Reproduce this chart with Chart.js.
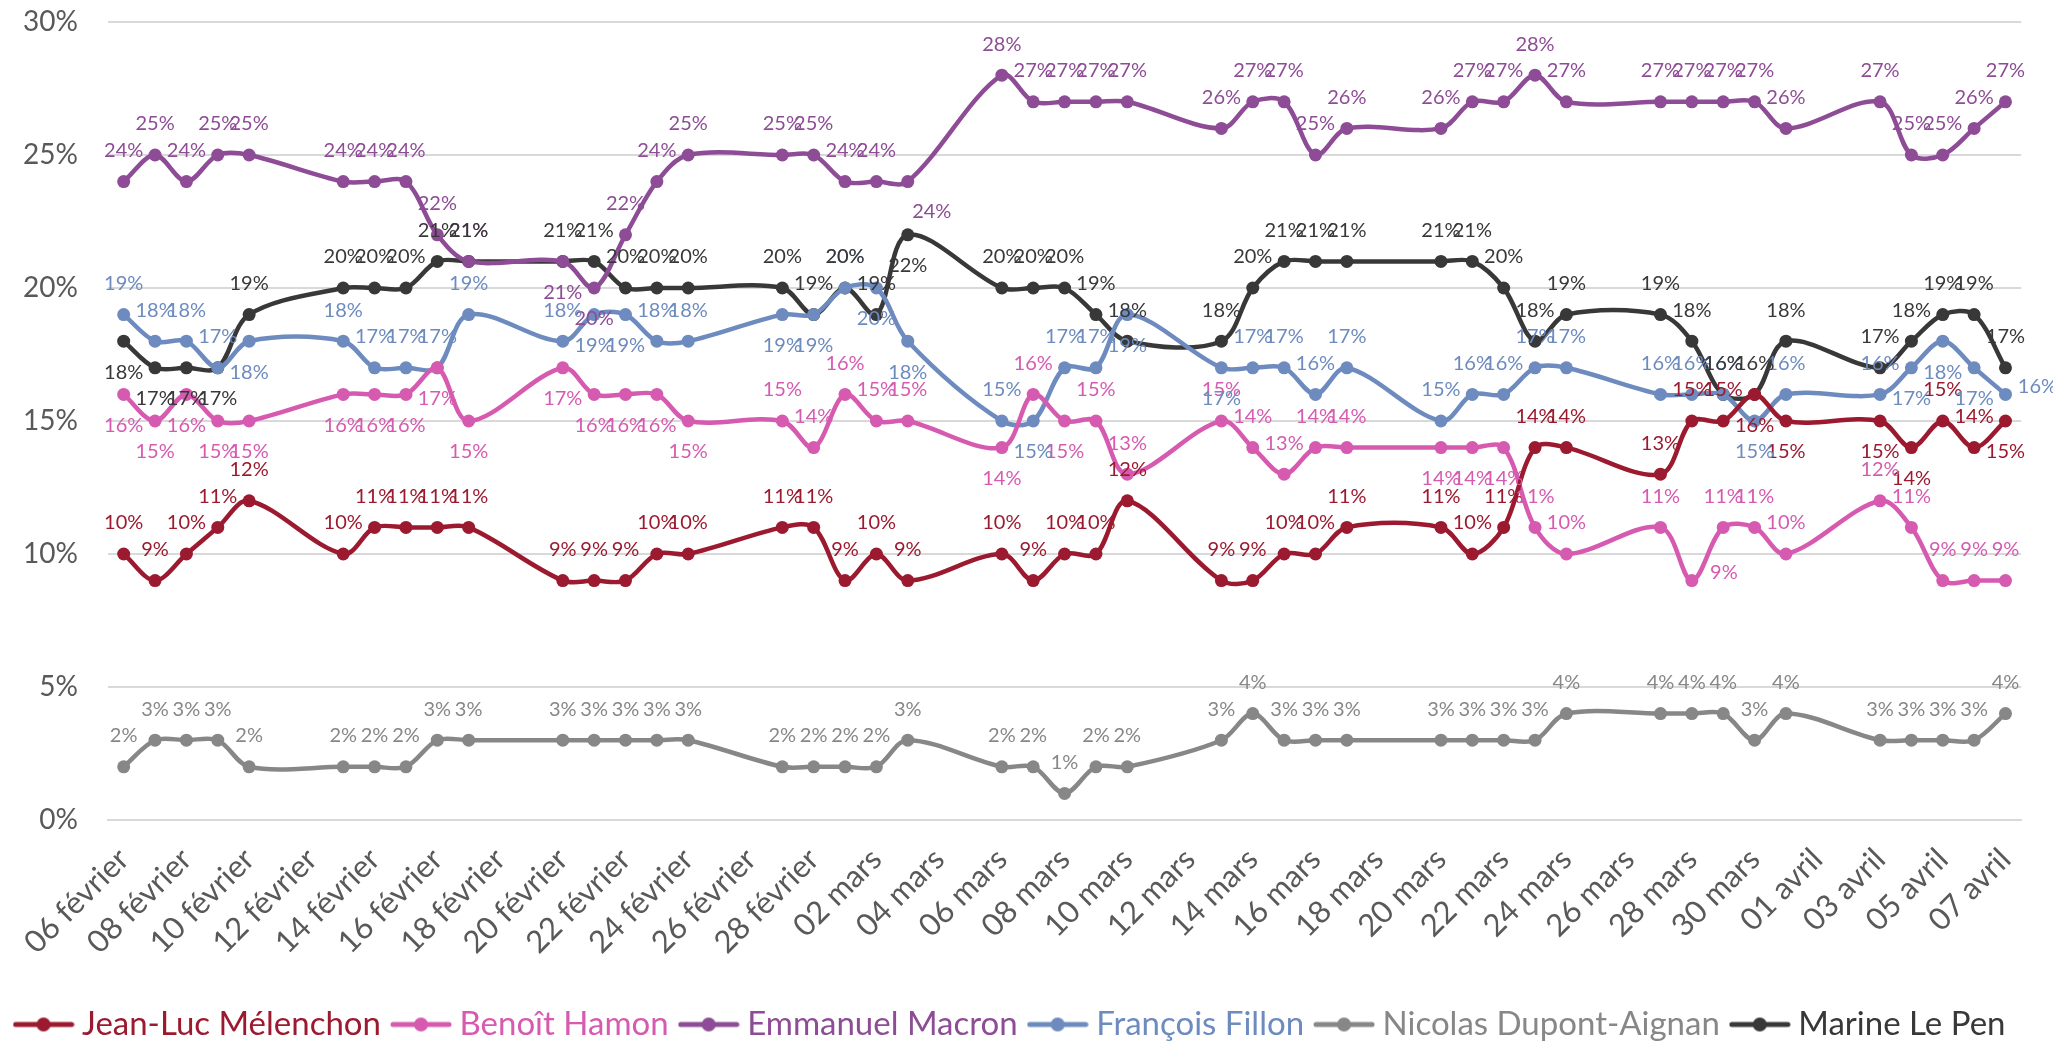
<!DOCTYPE html>
<html>
<head>
<meta charset="utf-8">
<script src="https://cdn.jsdelivr.net/npm/chart.js@4/dist/chart.umd.min.js"></script>
<style>
  html, body { margin: 0; padding: 0; background: #ffffff; }
  #wrap { width: 2053px; height: 1041px; }
</style>
</head>
<body>
<div id="wrap"><canvas id="c" width="2053" height="1041"></canvas></div>
<script>
// Every calendar day on the axis (categories)
const dayLabels = [
  "06 février","07 février","08 février","09 février","10 février","11 février","12 février",
  "13 février","14 février","15 février","16 février","17 février","18 février","19 février",
  "20 février","21 février","22 février","23 février","24 février","25 février","26 février",
  "27 février","28 février","01 mars","02 mars","03 mars","04 mars","05 mars",
  "06 mars","07 mars","08 mars","09 mars","10 mars","11 mars","12 mars",
  "13 mars","14 mars","15 mars","16 mars","17 mars","18 mars","19 mars",
  "20 mars","21 mars","22 mars","23 mars","24 mars","25 mars","26 mars",
  "27 mars","28 mars","29 mars","30 mars","31 mars","01 avril","02 avril",
  "03 avril","04 avril","05 avril","06 avril","07 avril"
];

// Days on which a poll value was published
const pollDays = [
  "06 février","07 février","08 février","09 février","10 février",
  "13 février","14 février","15 février","16 février","17 février",
  "20 février","21 février","22 février","23 février","24 février",
  "27 février","28 février","01 mars","02 mars","03 mars",
  "06 mars","07 mars","08 mars","09 mars","10 mars",
  "13 mars","14 mars","15 mars","16 mars","17 mars",
  "20 mars","21 mars","22 mars","23 mars","24 mars",
  "27 mars","28 mars","29 mars","30 mars","31 mars",
  "03 avril","04 avril","05 avril","06 avril","07 avril"
];

const melenchon = [10,9,10,11,12, 10,11,11,11,11, 9,9,9,10,10, 11,11,9,10,9, 10,9,10,10,12, 9,9,10,10,11, 11,10,11,14,14, 13,15,15,16,15, 15,14,15,14,15];
const hamon     = [16,15,16,15,15, 16,16,16,17,15, 17,16,16,16,15, 15,14,16,15,15, 14,16,15,15,13, 15,14,13,14,14, 14,14,14,11,10, 11,9,11,11,10, 12,11,9,9,9];
const macron    = [24,25,24,25,25, 24,24,24,22,21, 21,20,22,24,25, 25,25,24,24,24, 28,27,27,27,27, 26,27,27,25,26, 26,27,27,28,27, 27,27,27,27,26, 27,25,25,26,27];
const fillon    = [19,18,18,17,18, 18,17,17,17,19, 18,19,19,18,18, 19,19,20,20,18, 15,15,17,17,19, 17,17,17,16,17, 15,16,16,17,17, 16,16,16,15,16, 16,17,18,17,16];
const dupont    = [2,3,3,3,2, 2,2,2,3,3, 3,3,3,3,3, 2,2,2,2,3, 2,2,1,2,2, 3,4,3,3,3, 3,3,3,3,4, 4,4,4,3,4, 3,3,3,3,4];
const lepen     = [18,17,17,17,19, 20,20,20,21,21, 21,21,20,20,20, 20,19,20,19,22, 20,20,20,19,18, 18,20,21,21,21, 21,21,20,18,19, 19,18,16,16,18, 17,18,19,19,17];

const yTicks = [0, 5, 10, 15, 20, 25, 30];

// Value-label placement (style only): a = above, b = below, r = right, c = below-right
const placeMelenchon = "aaaaa" + "aaaaa" + "aaaaa" + "aaaaa" + "aaaaa" + "aaaaa" + "aaaaa" + "aaabb" + "bbaab";
const placeHamon     = "bbbbb" + "bbbbb" + "bbbbb" + "aaaaa" + "babaa" + "aaaaa" + "bbbaa" + "araaa" + "aaaaa";
const placeMacron    = "aaaaa" + "aaaaa" + "bbaaa" + "aaaac" + "aaaaa" + "aaaaa" + "aaaaa" + "aaaaa" + "aaaaa";
const placeFillon    = "aaaab" + "aaaaa" + "abbaa" + "bbabb" + "abaab" + "baaaa" + "aaaaa" + "aaaba" + "abbbr";
const placeDupont    = "aaaaa" + "aaaaa" + "aaaaa" + "aaaaa" + "aaaaa" + "aaaaa" + "aaaaa" + "aaaaa" + "aaaaa";
const placeLePen     = "bbbba" + "aaaaa" + "aaaaa" + "aaaab" + "aaaaa" + "aaaaa" + "aaaaa" + "aaaaa" + "aaaaa";

const FONT = 'Lato';

function toPoints(values) {
  return values.map((v, i) => ({ x: pollDays[i], y: v }));
}

function legendIcon(color) {
  const c = document.createElement('canvas');
  c.width = 62; c.height = 20;
  const g = c.getContext('2d');
  g.strokeStyle = color; g.lineWidth = 5; g.lineCap = 'round';
  g.beginPath(); g.moveTo(3, 10); g.lineTo(59, 10); g.stroke();
  g.fillStyle = color;
  g.beginPath(); g.arc(31, 10, 7, 0, Math.PI * 2); g.fill();
  return c;
}

const seriesDefs = [
  { label: 'Jean-Luc Mélenchon', data: melenchon, color: '#9C1A2F', place: placeMelenchon },
  { label: 'Benoît Hamon', data: hamon, color: '#D65BB0', place: placeHamon },
  { label: 'Emmanuel Macron', data: macron, color: '#8D4C95', place: placeMacron },
  { label: 'François Fillon', data: fillon, color: '#6D8BBF', place: placeFillon },
  { label: 'Nicolas Dupont-Aignan', data: dupont, color: '#878787', place: placeDupont },
  { label: 'Marine Le Pen', data: lepen, color: '#383838', place: placeLePen }
];

const datasets = seriesDefs.map(s => ({
  label: s.label,
  data: toPoints(s.data),
  borderColor: s.color,
  backgroundColor: s.color,
  pointBackgroundColor: s.color,
  pointBorderColor: s.color,
  pointRadius: 6.5,
  pointBorderWidth: 0,
  borderWidth: 4.5,
  tension: 0.33,
  fill: false,
  labelPlace: s.place
}));

const OFFSETS = { a: [0, -31], b: [0, 31], r: [32, -8], c: [24, 30] };

const valueLabels = {
  id: 'valueLabels',
  afterDatasetsDraw(chart) {
    const ctx = chart.ctx;
    ctx.save();
    ctx.font = '20px ' + FONT;
    ctx.textAlign = 'center';
    ctx.textBaseline = 'middle';
    chart.data.datasets.forEach((ds, i) => {
      const meta = chart.getDatasetMeta(i);
      meta.data.forEach((pt, j) => {
        const v = ds.data[j].y;
        const off = OFFSETS[ds.labelPlace[j]] || OFFSETS.a;
        ctx.fillStyle = ds.borderColor;
        ctx.fillText(v + '%', pt.x + off[0], pt.y + off[1]);
      });
    });
    ctx.restore();
  }
};

new Chart(document.getElementById('c'), {
  type: 'line',
  data: { labels: dayLabels, datasets: datasets },
  plugins: [valueLabels],
  options: {
    responsive: false,
    animation: false,
    devicePixelRatio: 1,
    layout: { padding: { top: 22, right: 26, left: 0, bottom: -10 } },
    scales: {
      x: {
        type: 'category',
        offset: true,
        grid: { display: false, drawTicks: false },
        border: { display: true, color: '#D9D9D9', width: 2 },
        ticks: {
          autoSkip: false,
          minRotation: 45,
          maxRotation: 45,
          padding: 21,
          color: '#595959',
          font: { family: FONT, size: 31 },
          callback: (v, i) => (i % 2 === 0 ? dayLabels[i] : '')
        },
        afterFit: s => { s.height = 170; }
      },
      y: {
        min: yTicks[0],
        max: yTicks[yTicks.length - 1],
        afterBuildTicks: s => { s.ticks = yTicks.map(v => ({ value: v })); },
        ticks: {
          padding: 4,
          color: '#595959',
          font: { family: FONT, size: 28 },
          callback: v => v + '%'
        },
        grid: { color: '#D9D9D9', lineWidth: 2, drawTicks: true, tickLength: 26, tickColor: 'rgba(0,0,0,0)' },
        border: { display: false },
        afterFit: s => { s.width = 108; }
      }
    },
    plugins: {
      tooltip: { enabled: false },
      legend: {
        position: 'bottom',
        labels: {
          usePointStyle: true,
          pointStyleWidth: 44,
          padding: 18,
          font: { family: FONT, size: 33 },
          generateLabels: chart => chart.data.datasets.map((ds, i) => ({
            text: ds.label,
            fontColor: ds.borderColor,
            pointStyle: legendIcon(ds.borderColor),
            fillStyle: ds.borderColor,
            strokeStyle: ds.borderColor,
            lineWidth: 0,
            hidden: false,
            datasetIndex: i
          }))
        }
      }
    }
  }
});
</script>
</body>
</html>
